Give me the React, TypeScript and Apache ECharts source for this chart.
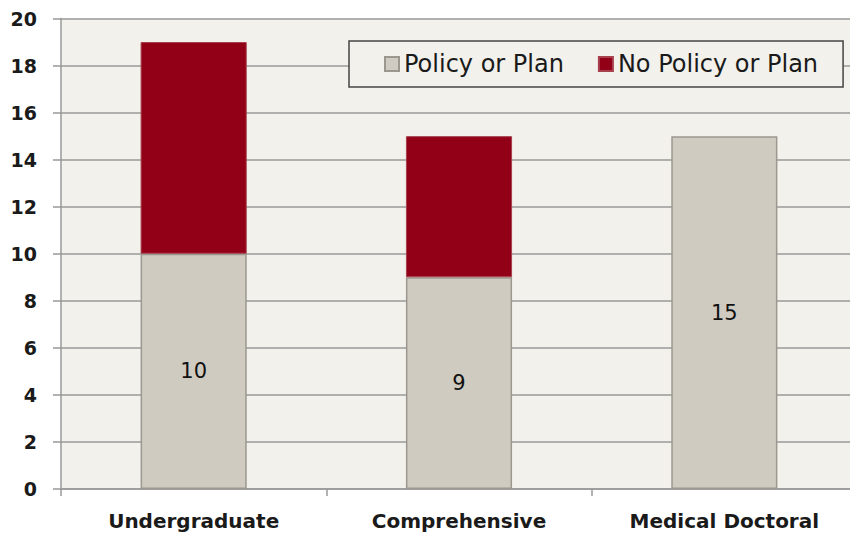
import React, { useEffect, useRef } from "react";
import * as echarts from "echarts";

const categories = ["Undergraduate", "Comprehensive", "Medical Doctoral"];
const policyValues = [10, 9, 15];
const noPolicyValues = [9, 6, 0];
const seriesNames = ["Policy or Plan", "No Policy or Plan"];

const FONT = "'DejaVu Sans', sans-serif";

export default function App() {
  const ref = useRef<HTMLDivElement>(null);
  useEffect(() => {
    if (!ref.current) return;
    const chart = echarts.init(ref.current, null, { renderer: "svg" });
    chart.setOption({
      animation: false,
      backgroundColor: "#ffffff",
      grid: {
        left: 61,
        top: 18.5,
        bottom: 44,
        right: 0,
        show: true,
        backgroundColor: "#f2f1ec",
        borderWidth: 0,
        containLabel: false,
      },
      legend: {
        left: 349,
        top: 41,
        data: seriesNames,
        icon: "rect",
        itemWidth: 14,
        itemHeight: 14,
        itemGap: 34,
        padding: [11, 25, 11, 35],
        borderColor: "#444444",
        borderWidth: 1.5,
        backgroundColor: "#f2f1ec",
        textStyle: { fontFamily: FONT, fontSize: 24, color: "#1a1a1a" },
      },
      xAxis: {
        type: "category",
        data: categories,
        axisLine: { lineStyle: { color: "#999999", width: 1.5 } },
        axisTick: { show: true, length: 7, lineStyle: { color: "#999999", width: 1.5 } },
        axisLabel: {
          fontFamily: FONT,
          fontSize: 20,
          fontWeight: "bold",
          color: "#1a1a1a",
          margin: 22,
        },
      },
      yAxis: {
        type: "value",
        min: 0,
        max: 20,
        interval: 2,
        axisLine: { show: true, lineStyle: { color: "#999999", width: 1.5 } },
        axisTick: { show: true, length: 8, lineStyle: { color: "#999999", width: 1.5 } },
        splitLine: { lineStyle: { color: "#999999", width: 1.5 } },
        axisLabel: {
          fontFamily: FONT,
          fontSize: 19,
          fontWeight: "bold",
          color: "#1a1a1a",
          margin: 24,
        },
      },
      series: [
        {
          name: seriesNames[0],
          type: "bar",
          stack: "total",
          data: policyValues,
          barWidth: "40%",
          itemStyle: { color: "#cfcbc1", borderColor: "#9c9890", borderWidth: 1.5 },
          label: {
            show: true,
            position: "inside",
            fontFamily: FONT,
            fontSize: 21,
            color: "#111111",
          },
        },
        {
          name: seriesNames[1],
          type: "bar",
          stack: "total",
          data: noPolicyValues.map((v) => (v === 0 ? null : v)),
          barWidth: "40%",
          itemStyle: { color: "#920018", borderColor: "#a8404e", borderWidth: 1 },
        },
      ],
    });
    return () => chart.dispose();
  }, []);
  return (
    <div style={{ position: "absolute", left: 0, top: 0, width: 850, height: 533, overflow: "hidden" }}>
      <div ref={ref} style={{ width: 857, height: 533 }} />
    </div>
  );
}
